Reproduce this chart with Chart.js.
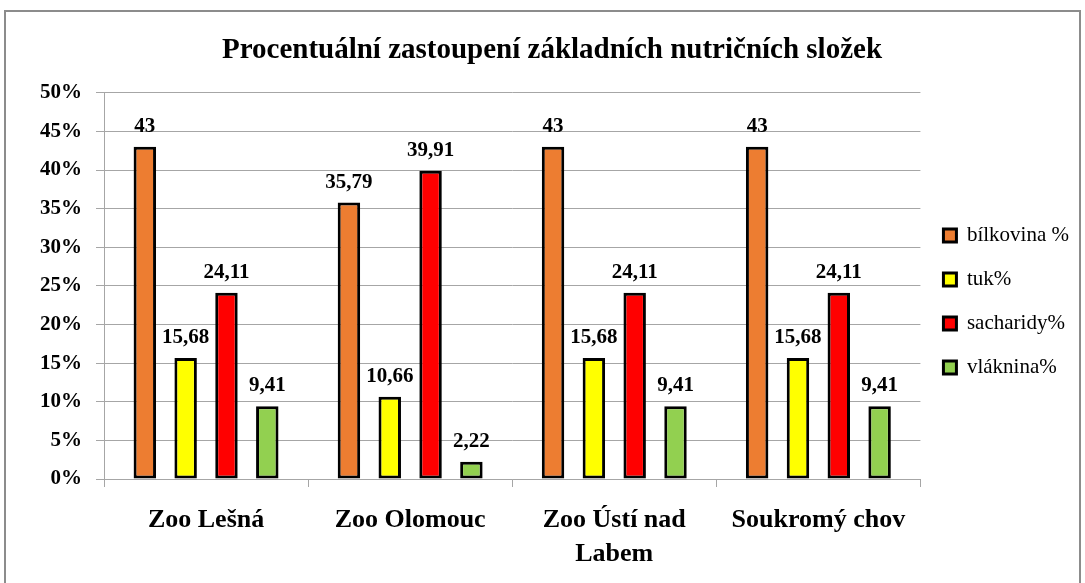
<!DOCTYPE html>
<html>
<head>
<meta charset="utf-8">
<script src="https://cdn.jsdelivr.net/npm/chart.js@4.4.1/dist/chart.umd.min.js"></script>
<style>
  html, body { margin: 0; padding: 0; background: #fff; }
  #wrap { position: relative; width: 1085px; height: 583px; overflow: hidden; }
  #frame { position: absolute; left: 4px; top: 10px; right: 4px; bottom: -10px; border: 2px solid #8c8c8c; pointer-events: none; }
</style>
</head>
<body>
<div id="wrap">
  <canvas id="chart" width="1085" height="583"></canvas>
  <div id="frame"></div>
</div>
<script>
const categories = ['Zoo Lešná', 'Zoo Olomouc', ['Zoo Ústí nad', 'Labem'], 'Soukromý chov'];
const seriesNames = ['bílkovina %', 'tuk%', 'sacharidy%', 'vláknina%'];
const bilkovina = [43, 35.79, 43, 43];
const tuk = [15.68, 10.66, 15.68, 15.68];
const sacharidy = [24.11, 39.91, 24.11, 24.11];
const vlaknina = [9.41, 2.22, 9.41, 9.41];
const yTicks = [0, 5, 10, 15, 20, 25, 30, 35, 40, 45, 50];

const colors = ['#ED7D31', '#FFFF00', '#FF0000', '#92D050'];
const serif = "'Liberation Serif', 'Times New Roman', serif";

// value labels above the bars, decimal comma like the original
const valueLabels = {
    id: 'valueLabels',
    afterDatasetsDraw(chart) {
        const ctx = chart.ctx;
        ctx.save();
        ctx.font = 'bold 21px ' + serif;
        ctx.fillStyle = '#000';
        ctx.textAlign = 'center';
        ctx.textBaseline = 'alphabetic';
        chart.data.datasets.forEach((ds, i) => {
            chart.getDatasetMeta(i).data.forEach((bar, j) => {
                const txt = String(ds.data[j]).replace('.', ',');
                ctx.fillText(txt, bar.x, bar.y - 15);
            });
        });
        ctx.restore();
    }
};

let chart;

function initChart() {
    const ctx = document.getElementById('chart').getContext('2d');
    const seriesData = [bilkovina, tuk, sacharidy, vlaknina];
    chart = new Chart(ctx, {
        type: 'bar',
        data: {
            labels: categories,
            datasets: seriesData.map((d, i) => ({
                label: seriesNames[i],
                data: d,
                backgroundColor: colors[i],
                borderColor: '#000',
                borderWidth: 3,
                borderSkipped: false,
                categoryPercentage: 0.8,
                barPercentage: 0.55
            }))
        },
        options: {
            responsive: false,
            animation: false,
            devicePixelRatio: 1,
            layout: { padding: { left: 25, right: 6, top: 20, bottom: 0 } },
            plugins: {
                title: {
                    display: true,
                    text: 'Procentuální zastoupení základních nutričních složek',
                    color: '#000',
                    font: { family: serif, size: 29, weight: 'bold' },
                    padding: { top: 13, bottom: 25 }
                },
                legend: {
                    position: 'right',
                    labels: {
                        color: '#000',
                        font: { family: serif, size: 21 },
                        boxWidth: 13,
                        boxHeight: 13,
                        padding: 23
                    }
                },
                tooltip: { enabled: false }
            },
            scales: {
                x: {
                    afterFit: (scale) => { scale.height = 104; },
                    grid: { drawOnChartArea: false, drawTicks: true, tickLength: 8, color: '#a6a6a6', offset: true },
                    border: { color: '#a6a6a6', width: 1 },
                    ticks: {
                        color: '#000',
                        font: { family: serif, size: 26, weight: 'bold', lineHeight: 1.32 },
                        padding: 16,
                        maxRotation: 0
                    }
                },
                y: {
                    min: 0,
                    max: 50,
                    afterFit: (scale) => { scale.width = 79; },
                    afterBuildTicks: (scale) => { scale.ticks = yTicks.map(v => ({ value: v })); },
                    grid: { color: '#a6a6a6', tickLength: 8 },
                    border: { color: '#a6a6a6', width: 1 },
                    ticks: {
                        color: '#000',
                        font: { family: serif, size: 21, weight: 'bold' },
                        padding: 14,
                        callback: (v) => v + '%'
                    }
                }
            }
        },
        plugins: [valueLabels]
    });
}

document.addEventListener('DOMContentLoaded', () => {
    initChart();
});
</script>
</body>
</html>
